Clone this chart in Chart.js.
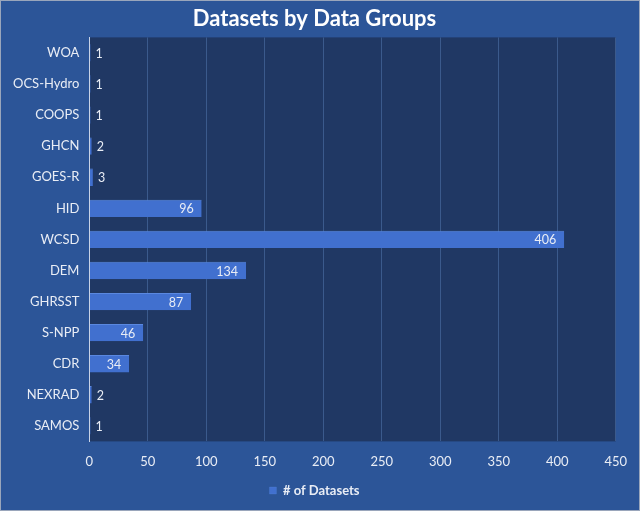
<!DOCTYPE html>
<html lang="en">
<head>
    <meta charset="UTF-8">
    <title>Datasets by Data Groups</title>
    <style>
        * { margin: 0; padding: 0; box-sizing: border-box; }
        body { background: #2c5598; width: 640px; height: 511px; overflow: hidden; }
        .wrap { position: relative; width: 640px; height: 511px; }
    </style>
</head>
<body>
    <div class="wrap"><canvas id="chart"></canvas></div>
    <script src="https://cdn.jsdelivr.net/npm/chart.js@4.4.1/dist/chart.umd.min.js"></script>
    <script>
        const groups = ["WOA", "OCS-Hydro", "COOPS", "GHCN", "GOES-R", "HID", "WCSD", "DEM", "GHRSST", "S-NPP", "CDR", "NEXRAD", "SAMOS"];
        const datasetCounts = [1, 1, 1, 2, 3, 96, 406, 134, 87, 46, 34, 2, 1];
        const xTicks = [0, 50, 100, 150, 200, 250, 300, 350, 400, 450];

        const FONT = "Lato, 'Open Sans', sans-serif";
        const TEXT = "#e9edf5";

        // paints the outer background, the plot area and a thin frame
        const backdrop = {
            id: "backdrop",
            beforeDraw(chart) {
                const { ctx, chartArea: a, width, height } = chart;
                ctx.save();
                ctx.fillStyle = "#2c5598";
                ctx.fillRect(0, 0, width, height);
                ctx.fillStyle = "#203864";
                ctx.fillRect(a.left, a.top, a.right - a.left, a.bottom - a.top);
                ctx.strokeStyle = "#9aa6bb";
                ctx.lineWidth = 1;
                ctx.strokeRect(0.5, 0.5, width - 1, height - 1);
                ctx.restore();
            }
        };

        // value labels: inside the bar end when it fits, otherwise just past it
        const valueLabels = {
            id: "valueLabels",
            afterDatasetsDraw(chart) {
                const { ctx } = chart;
                const meta = chart.getDatasetMeta(0);
                ctx.save();
                ctx.font = "12.5px " + FONT;
                ctx.fillStyle = TEXT;
                ctx.textBaseline = "middle";
                meta.data.forEach((bar, i) => {
                    const txt = String(datasetCounts[i]);
                    const w = ctx.measureText(txt).width;
                    if (bar.x - bar.base > w + 14) {
                        ctx.textAlign = "right";
                        ctx.fillText(txt, bar.x - 8, bar.y + 1);
                    } else {
                        ctx.textAlign = "left";
                        ctx.fillText(txt, bar.x + 5, bar.y + 1);
                    }
                });
                ctx.restore();
            }
        };

        new Chart(document.getElementById("chart"), {
            type: "bar",
            plugins: [backdrop, valueLabels],
            data: {
                labels: groups,
                datasets: [{
                    label: "# of Datasets",
                    data: datasetCounts,
                    backgroundColor: "#4170cf",
                    borderColor: "#5a88e0",
                    borderWidth: { top: 1, right: 0, bottom: 0, left: 0 },
                    categoryPercentage: 0.9,
                    barPercentage: 0.62
                }]
            },
            options: {
                indexAxis: "y",
                responsive: true,
                maintainAspectRatio: false,
                animation: false,
                layout: { padding: { top: 2, right: 14, left: 3, bottom: 4 } },
                plugins: {
                    tooltip: { enabled: false },
                    title: {
                        display: true,
                        text: "Datasets by Data Groups",
                        color: "#ffffff",
                        font: { family: FONT, size: 22, weight: "bold" },
                        padding: { top: 4, bottom: 5 }
                    },
                    legend: {
                        position: "bottom",
                        labels: {
                            color: TEXT,
                            font: { family: FONT, size: 13, weight: "bold" },
                            boxWidth: 7,
                            boxHeight: 7,
                            padding: 1
                        }
                    }
                },
                scales: {
                    x: {
                        min: xTicks[0],
                        max: xTicks[xTicks.length - 1],
                        afterBuildTicks: (axis) => { axis.ticks = xTicks.map(v => ({ value: v })); },
                        grid: { color: "#3b5a8c", lineWidth: 1, drawTicks: false },
                        border: { display: false },
                        ticks: {
                            color: TEXT,
                            padding: 13,
                            font: { family: FONT, size: 13 }
                        }
                    },
                    y: {
                        grid: { display: false, drawTicks: false },
                        border: { display: true, color: "#c9d3e6", width: 1 },
                        ticks: {
                            color: TEXT,
                            padding: 10,
                            font: { family: FONT, size: 13 }
                        }
                    }
                }
            }
        });
    </script>
</body>
</html>
